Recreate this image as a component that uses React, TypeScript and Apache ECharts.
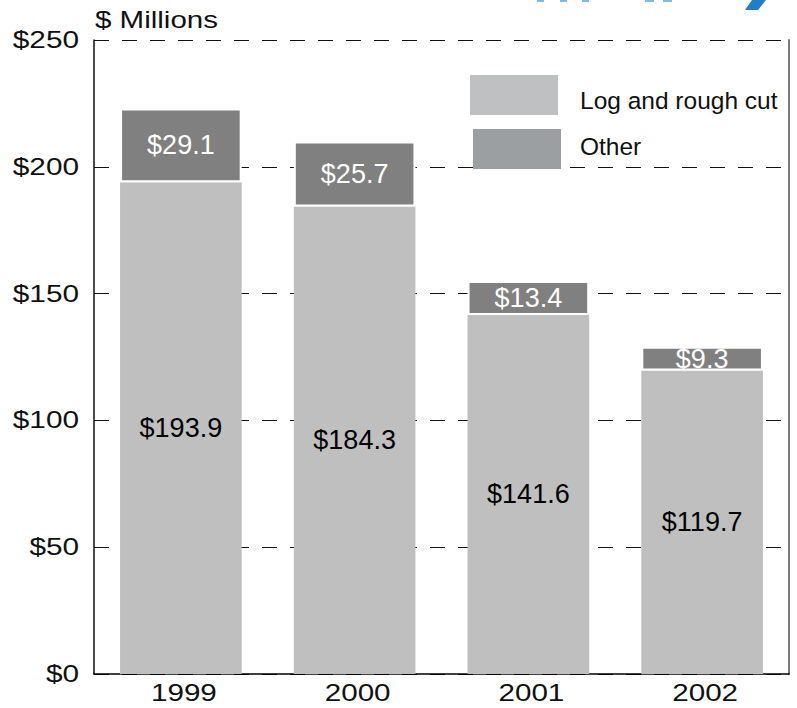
import React, { useEffect, useRef } from "react";
import * as echarts from "echarts";

const categories = ["1999", "2000", "2001", "2002"];
const logValues = [193.9, 184.3, 141.6, 119.7];
const otherValues = [29.1, 25.7, 13.4, 9.3];
const yTicks = [0, 50, 100, 150, 200, 250];
const yTickLabels = ["$0", "$50", "$100", "$150", "$200", "$250"];
const legendNames = ["Log and rough cut", "Other"];
const yAxisTitle = "$ Millions";

const FONT = "'Liberation Sans', Arial, Helvetica, sans-serif";

export default function App() {
  const ref = useRef<HTMLDivElement>(null);
  useEffect(() => {
    if (!ref.current) return;
    const chart = echarts.init(ref.current, null, { renderer: "svg" });
    const fmt = (p: any) => "$" + Number(p.value).toFixed(1);
    chart.setOption({
      animation: false,
      backgroundColor: "#ffffff",
      grid: { left: 94, right: 8, top: 40, bottom: 34, containLabel: false },
      xAxis: {
        type: "category",
        data: categories,
        axisLine: { show: true, lineStyle: { color: "#000", width: 1.5 } },
        axisTick: { show: false },
        axisLabel: { show: false },
        splitLine: { show: false },
      },
      yAxis: [
        {
          type: "value",
          min: 0,
          max: 250,
          interval: 50,
          axisLine: { show: true, lineStyle: { color: "#111", width: 1.5 } },
          axisTick: { show: false },
          axisLabel: { show: false },
          splitLine: {
            show: true,
            lineStyle: { color: "#111", width: 1, type: [15, 13] },
          },
        },
        {
          type: "value",
          min: 0,
          max: 250,
          interval: 50,
          position: "right",
          axisLine: { show: true, lineStyle: { color: "#7a7a7a", width: 2 } },
          axisTick: { show: false },
          axisLabel: { show: false },
          splitLine: { show: false },
        },
      ],
      series: [
        {
          name: legendNames[0],
          type: "bar",
          stack: "total",
          data: logValues,
          barWidth: "70%",
          itemStyle: { color: "#bfbfbf" },
          label: {
            show: true,
            position: "inside",
            formatter: fmt,
            color: "#000",
            fontSize: 27,
            fontFamily: FONT,
          },
        },
        {
          name: legendNames[1],
          type: "bar",
          stack: "total",
          data: otherValues,
          barWidth: "70%",
          itemStyle: { color: "#808080", borderColor: "#ffffff", borderWidth: 2 },
          label: {
            show: true,
            position: "inside",
            formatter: fmt,
            color: "#ffffff",
            fontSize: 27,
            fontFamily: FONT,
          },
        },
      ],
    });

    const textStyle = (text: string, align: string, vAlign: string, size: number) => ({
      text,
      fill: "#111",
      fontSize: size,
      fontFamily: FONT,
      align,
      verticalAlign: vAlign,
      textAlign: align,
      textVerticalAlign: vAlign,
    });

    const graphics: any[] = [];
    yTicks.forEach((v, i) => {
      const y = chart.convertToPixel({ yAxisIndex: 0 }, v) as number;
      graphics.push({
        type: "text",
        x: 79,
        y,
        scaleX: 1.24,
        style: textStyle(yTickLabels[i], "right", "middle", 24),
        z: 10,
      });
    });
    categories.forEach((c, i) => {
      const x = chart.convertToPixel({ xAxisIndex: 0 }, i) as number;
      graphics.push({
        type: "text",
        x: x + 3,
        y: 693,
        scaleX: 1.26,
        style: textStyle(c, "center", "middle", 23.5),
        z: 10,
      });
    });
    graphics.push({
      type: "text",
      x: 95,
      y: 20,
      scaleX: 1.23,
      style: textStyle(yAxisTitle, "left", "middle", 24),
      z: 10,
    });
    // legend
    graphics.push({
      type: "rect",
      shape: { x: 470, y: 75, width: 88, height: 40 },
      style: { fill: "#bfc0c2" },
      z: 10,
    });
    graphics.push({
      type: "rect",
      shape: { x: 473, y: 129, width: 88, height: 40 },
      style: { fill: "#9c9fa2" },
      z: 10,
    });
    graphics.push({
      type: "text",
      x: 580,
      y: 100,
      style: textStyle(legendNames[0], "left", "middle", 24.5),
      z: 10,
    });
    graphics.push({
      type: "text",
      x: 580,
      y: 146,
      style: textStyle(legendNames[1], "left", "middle", 24.5),
      z: 10,
    });
    // cropped logo fragments at top edge
    [
      [537, 7],
      [560, 7],
      [582, 7],
      [645, 9],
      [663, 9],
    ].forEach(([x, w]) => {
      graphics.push({
        type: "rect",
        shape: { x, y: 0, width: w, height: 2 },
        style: { fill: "#7dbce8" },
        z: 10,
      });
    });
    graphics.push({
      type: "polygon",
      shape: {
        points: [
          [752, 0],
          [766, 0],
          [758, 10],
          [745, 10],
        ],
      },
      style: { fill: "#1f7fcc" },
      z: 10,
    });
    chart.setOption({ graphic: graphics });

    return () => chart.dispose();
  }, []);
  return (
    <div
      ref={ref}
      style={{ position: "fixed", left: 0, top: 0, width: 797, height: 708 }}
    />
  );
}
